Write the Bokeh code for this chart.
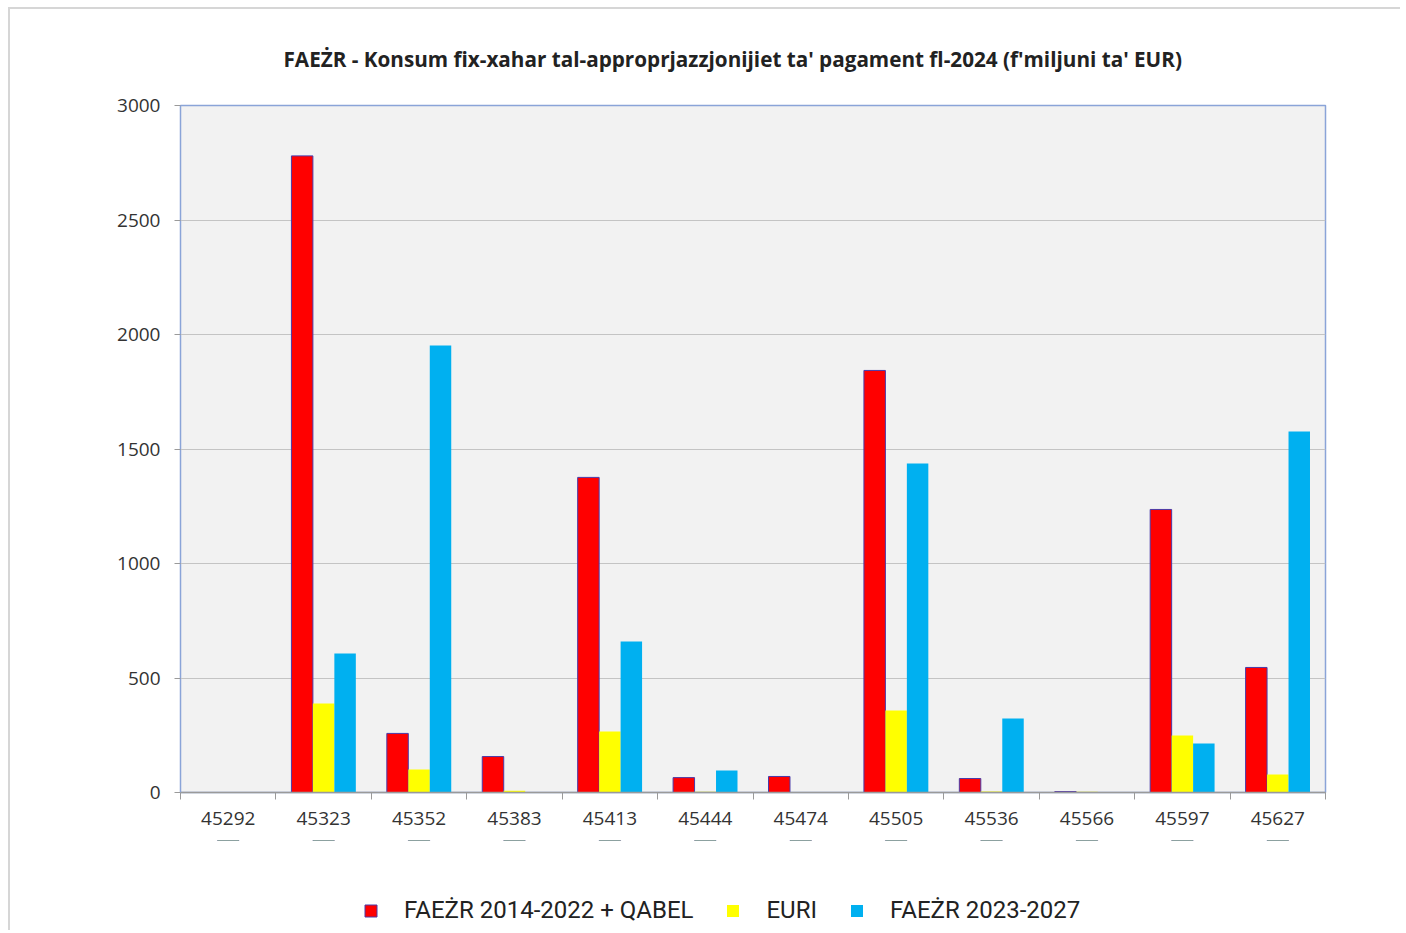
from bokeh.plotting import figure
from bokeh.layouts import column
from bokeh.models import Range1d, FixedTicker, Legend, LegendItem, Title
from bokeh.embed import file_html
from bokeh.resources import INLINE

# ---- data ----
months = ["45292", "45323", "45352", "45383", "45413", "45444",
          "45474", "45505", "45536", "45566", "45597", "45627"]
faezr_old = [0, 2780, 258, 157, 1376, 65, 70, 1843, 61, 4, 1236, 546]
euri = [0, 389, 100, 8, 266, 3, 0, 358, 4, 3, 249, 79]
faezr_new = [0, 607, 1952, 0, 659, 96, 0, 1437, 323, 0, 214, 1576]
series_names = ["FAEŻR 2014-2022 + QABEL", "EURI", "FAEŻR 2023-2027"]
series_colors = ["#ff0000", "#ffff00", "#00b0f0"]
title_text = "FAEŻR - Konsum fix-xahar tal-approprjazzjonijiet ta' pagament fl-2024 (f'miljuni ta' EUR)"
y_ticks = [0, 500, 1000, 1500, 2000, 2500, 3000]

idx = list(range(len(months)))
bw = 0.225

p = figure(frame_width=1145, frame_height=687, output_backend="svg", toolbar_location=None,
           x_range=Range1d(-0.5, len(months) - 0.5), y_range=Range1d(0, 3000),
           min_border_left=170, min_border_right=75, min_border_top=88,
           min_border_bottom=48)
p.background_fill_color = "#f2f2f2"
p.border_fill_color = "white"
p.outline_line_color = "#8aa4d8"
p.outline_line_width = 1.5

p.vbar(x=[i - bw for i in idx], top=faezr_old, width=bw, fill_color=series_colors[0],
       line_color="#4a3aa8", line_width=1)
p.vbar(x=idx, top=euri, width=bw, fill_color=series_colors[1], line_color=None)
p.vbar(x=[i + bw for i in idx], top=faezr_new, width=bw, fill_color=series_colors[2],
       line_color=None)

# axes
p.xaxis.ticker = FixedTicker(ticks=idx, minor_ticks=[i - 0.5 for i in range(len(months) + 1)])
p.xaxis.major_label_overrides = {i: m for i, m in enumerate(months)}
p.xaxis.major_tick_line_color = None
p.xaxis.minor_tick_line_color = "#9a9a9a"
p.xaxis.minor_tick_in = 0
p.xaxis.minor_tick_out = 7
p.xaxis.axis_line_color = "#9a9a9a"
p.xaxis.axis_line_width = 1.5
p.xaxis.major_label_text_font = "Open Sans"
p.xaxis.major_label_text_font_size = "19px"
p.xaxis.major_label_text_color = "#333333"
p.xaxis.major_label_standoff = 12

p.yaxis.ticker = FixedTicker(ticks=y_ticks)
p.yaxis.axis_line_color = "#8aa4d8"
p.yaxis.major_tick_line_color = "#9a9a9a"
p.yaxis.major_tick_in = 0
p.yaxis.major_tick_out = 6
p.yaxis.minor_tick_line_color = None
p.yaxis.major_label_text_font = "Open Sans"
p.yaxis.major_label_text_font_size = "19px"
p.yaxis.major_label_text_color = "#333333"
p.yaxis.major_label_standoff = 14

p.xgrid.grid_line_color = None
p.ygrid.grid_line_color = "#c4c4c4"
p.ygrid.grid_line_width = 1

p.title = Title(text=title_text, align="left", offset=103, standoff=66,
                text_font="Open Sans", text_font_style="bold", text_font_size="20.7px",
                text_color="#222222")

# ---- legend strip below the chart (its bars lie outside its visible range) ----
lg = figure(width=1390, height=90, output_backend="svg", toolbar_location=None,
            x_range=Range1d(-0.5, len(months) - 0.5), y_range=Range1d(-2, -1),
            x_axis_location=None, y_axis_location=None, min_border=0)
lg.outline_line_color = None
lg.grid.visible = False
lg.background_fill_color = "white"
lg.border_fill_color = "white"
l1 = lg.vbar(x=idx, top=faezr_old, width=bw, fill_color=series_colors[0],
             line_color="#4a3aa8", line_width=1)
l2 = lg.vbar(x=idx, top=euri, width=bw, fill_color=series_colors[1], line_color=None)
l3 = lg.vbar(x=idx, top=faezr_new, width=bw, fill_color=series_colors[2], line_color=None)

legend = Legend(items=[LegendItem(label=series_names[0], renderers=[l1]),
                       LegendItem(label=series_names[1], renderers=[l2]),
                       LegendItem(label=series_names[2], renderers=[l3])],
                orientation="horizontal", location=(183, 6),
                glyph_width=15, glyph_height=15, label_standoff=26, spacing=32,
                padding=0, margin=0, border_line_color=None, background_fill_alpha=0,
                label_text_font="Roboto", label_text_font_size="24px",
                label_text_color="#222222")
lg.add_layout(legend, "center")

layout = column(p, lg, spacing=0)
layout.styles = {"margin-left": "8px", "margin-top": "7px",
                 "border-top": "2px solid #d6d6d6", "border-left": "2px solid #d6d6d6"}

open("out.html", "w").write(file_html(layout, INLINE))
